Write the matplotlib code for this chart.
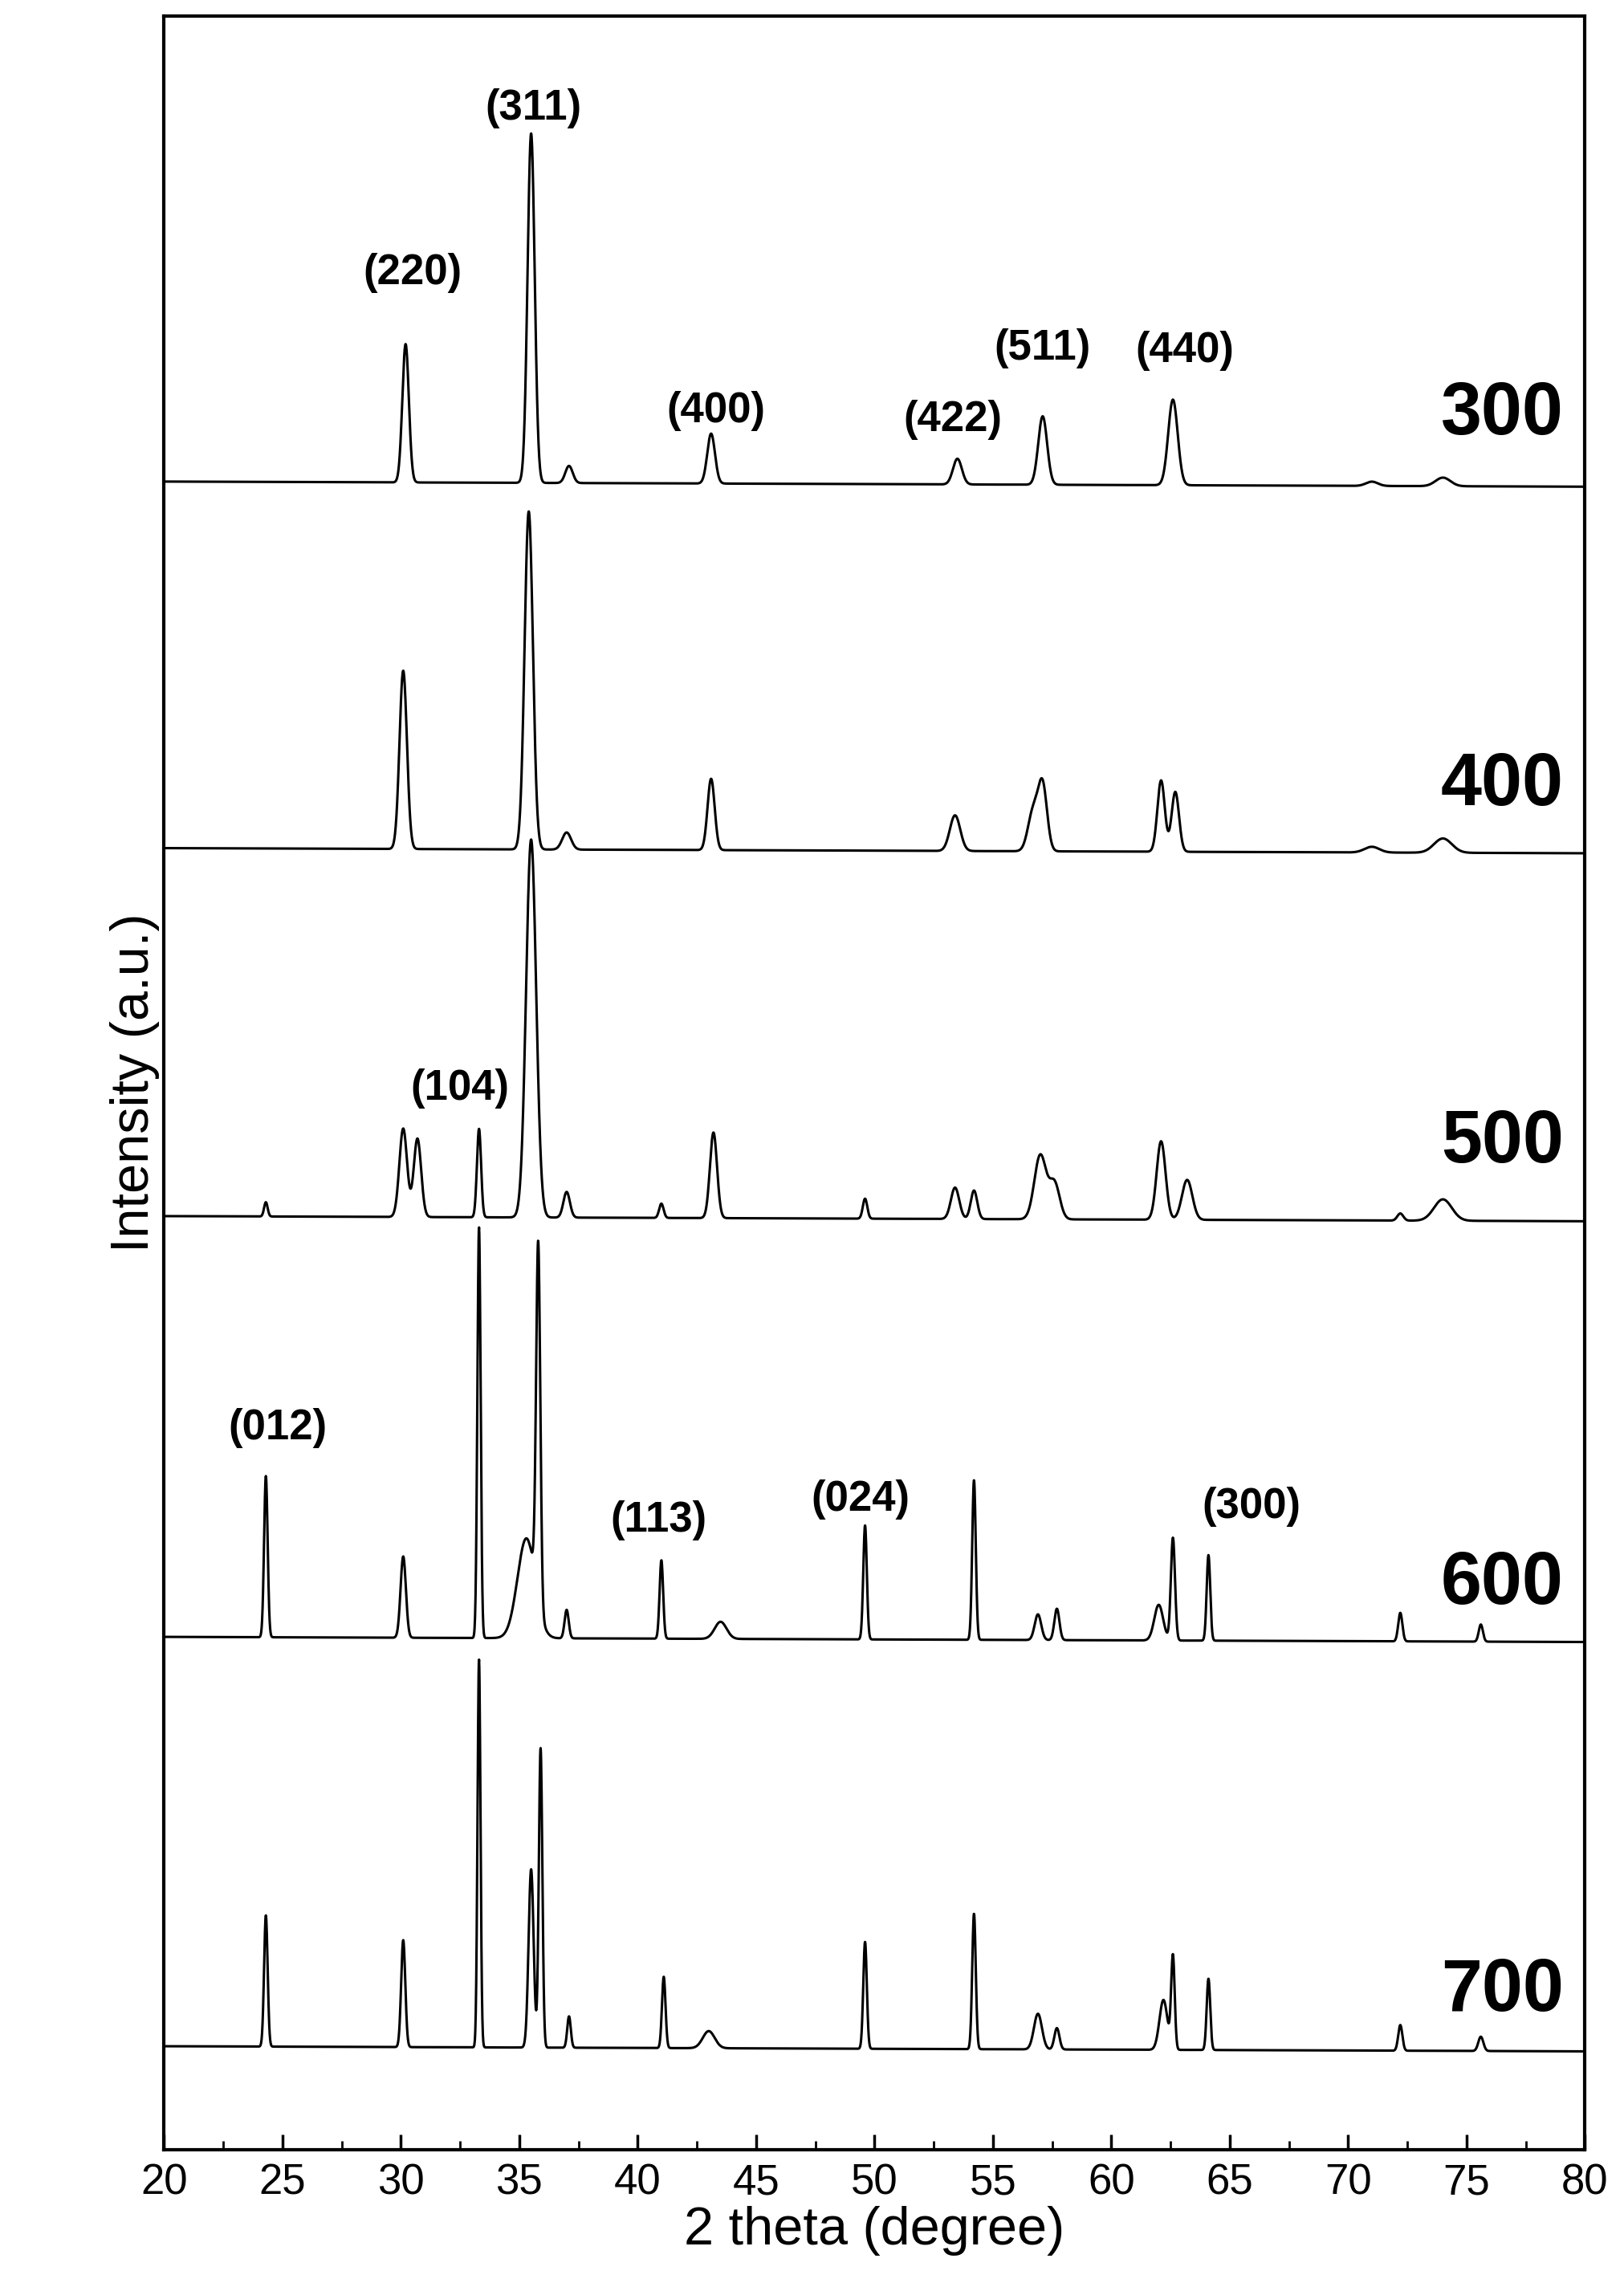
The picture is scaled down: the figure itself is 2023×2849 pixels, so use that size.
import numpy as np
import matplotlib.pyplot as plt

plt.rcParams['font.family'] = ['Liberation Sans', 'DejaVu Sans']

# XRD patterns, peaks as (2theta, height, width)
temps = ['300', '400', '500', '600', '700']
offsets = [1226, 969, 711, 416, 129]
peaks_300 = [(30.2, 97, 0.22), (35.5, 245, 0.24), (37.1, 12, 0.25), (43.1, 35, 0.26),
             (53.5, 18, 0.3), (57.1, 48, 0.3), (62.6, 60, 0.32), (71.0, 3, 0.4), (74.0, 6, 0.5)]
peaks_400 = [(30.1, 125, 0.25), (35.4, 237, 0.28), (37.0, 12, 0.3), (43.1, 50, 0.24),
             (53.4, 25, 0.35), (56.7, 28, 0.35), (57.1, 45, 0.3), (62.1, 50, 0.25), (62.7, 42, 0.25),
             (71.0, 4, 0.5), (74.0, 10, 0.6)]
peaks_500 = [(24.3, 10, 0.12), (30.1, 62, 0.26), (30.7, 55, 0.25), (33.3, 62, 0.14),
             (35.5, 265, 0.34), (37.0, 18, 0.22), (41.0, 10, 0.15), (43.2, 60, 0.24), (49.6, 14, 0.15),
             (53.4, 22, 0.28), (54.2, 20, 0.22), (57.0, 45, 0.4), (57.6, 25, 0.35),
             (62.1, 55, 0.3), (63.2, 28, 0.35), (72.2, 5, 0.2), (74.0, 15, 0.6)]
peaks_600 = [(24.3, 113, 0.12), (30.1, 57, 0.18), (33.3, 288, 0.11), (35.3, 70, 0.6),
             (35.8, 250, 0.14), (37.0, 20, 0.14), (41.0, 55, 0.12), (43.5, 12, 0.4),
             (49.6, 80, 0.12), (54.2, 112, 0.12), (56.9, 18, 0.22), (57.7, 22, 0.17),
             (62.0, 25, 0.3), (62.6, 72, 0.14), (64.1, 60, 0.12), (72.2, 20, 0.14), (75.6, 12, 0.14)]
peaks_700 = [(24.3, 92, 0.12), (30.1, 75, 0.14), (33.3, 272, 0.1), (35.5, 125, 0.17),
             (35.9, 210, 0.12), (37.1, 22, 0.12), (41.1, 50, 0.12), (43.0, 12, 0.4),
             (49.6, 75, 0.12), (54.2, 95, 0.12), (56.9, 25, 0.27), (57.7, 15, 0.17),
             (62.2, 35, 0.27), (62.6, 65, 0.12), (64.1, 50, 0.12), (72.2, 18, 0.14), (75.6, 10, 0.17)]
all_peaks = [peaks_300, peaks_400, peaks_500, peaks_600, peaks_700]

hkl_labels = ['(311)', '(220)', '(400)', '(422)', '(511)', '(440)', '(104)', '(012)', '(113)', '(024)', '(300)']
hkl_x = [35.6, 30.5, 43.3, 53.3, 57.1, 63.1, 32.5, 24.8, 40.9, 49.4, 65.9]
hkl_y = [1491, 1376, 1279, 1273, 1323, 1321, 804, 566, 501, 516, 511]
temp_y = [1276, 1016, 766, 456, 171]

x = np.linspace(20, 80, 6000)

fig = plt.figure(figsize=(20.23, 28.49), dpi=100)
ax = fig.add_axes([0.101, 0.06, 0.875, 0.933])
for off, pk in zip(offsets, all_peaks):
    y = np.full_like(x, off) + (80 - x) * 0.06
    for c, h, w in pk:
        y += h * np.exp(-0.5 * ((x - c) / (w / 1.6)) ** 2)
    ax.plot(x, y, color='black', lw=2.2)

for lab, lx, ly in zip(hkl_labels, hkl_x, hkl_y):
    ax.text(lx, ly, lab, fontsize=38, fontweight='bold', ha='center', va='center')
for t, ty in zip(temps, temp_y):
    ax.text(76.5, ty, t, fontsize=66, fontweight='bold', ha='center', va='center')

ax.set_xlim(20, 80)
ax.set_ylim(60, 1556)
ax.set_yticks([])
ax.set_xticks(np.arange(20, 81, 5))
ax.set_xticks(np.arange(20, 81, 2.5), minor=True)
ax.tick_params(axis='x', which='major', direction='in', length=14, width=2.5, labelsize=38, pad=12)
ax.tick_params(axis='x', which='minor', direction='in', length=8, width=2)
for s in ax.spines.values():
    s.set_linewidth(3)
ax.set_xlabel('2 theta (degree)', fontsize=48, labelpad=2)
ax.set_ylabel('Intensity (a.u.)', fontsize=48)
fig.savefig('out.png', dpi=100)
